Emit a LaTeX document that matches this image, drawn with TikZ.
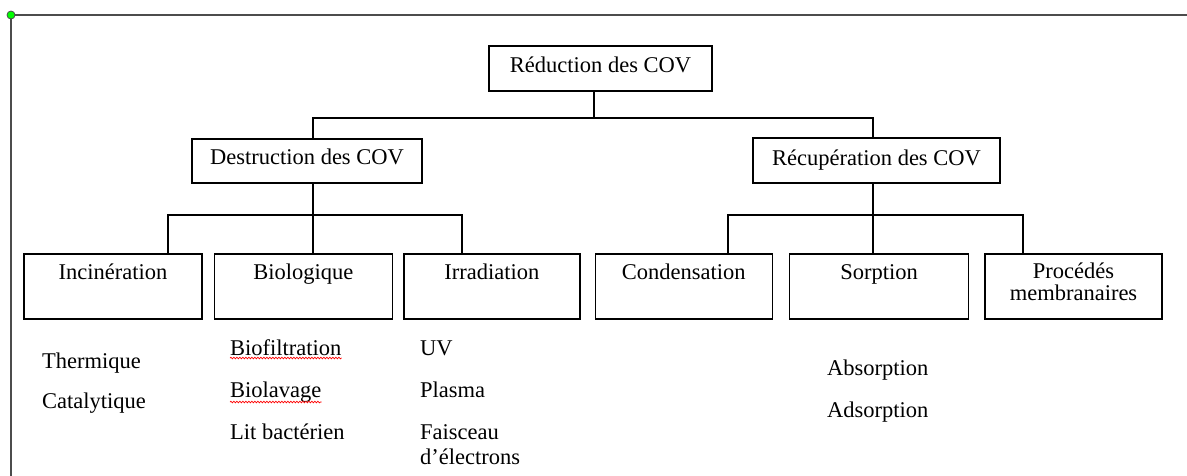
\documentclass[tikz,border=0pt]{standalone}
\usepackage{fontspec}
\setmainfont{Liberation Serif}
\usetikzlibrary{positioning,calc,decorations.pathmorphing}

\begin{document}
\begin{tikzpicture}[x=1pt, y=1pt,
		box/.style={draw, line width=1.4pt, inner sep=0pt, minimum height=65pt},
		lab/.style={anchor=base, yshift=-26pt, inner sep=0pt, font=\fontsize{22.5}{20}\selectfont},
		item/.style={anchor=base west, inner sep=0pt, font=\fontsize{22.5}{25}\selectfont},
		wavy/.style={red, line width=0.7pt, decorate, decoration={snake, amplitude=0.8pt, segment length=3pt}},
		tree/.style={line width=1.3pt},
		frame/.style={line width=1.8pt, black!70},
		dot/.style={circle, draw=black!70, fill=green, line width=0.8pt, inner sep=0pt, minimum size=8pt}]
	\useasboundingbox (0,0) rectangle (1187,-475);
	\coordinate (o) at (11,-15);
	\coordinate (e1) at (1187,-15);
	\coordinate (e2) at (11,-476);
	\draw[frame] (e1) -- (o) -- (e2);
	\node[dot] (pt) at (o) {};
	\node[box, minimum width=223pt, minimum height=45pt, label={[lab, yshift=-1pt]north:Réduction des COV}] (red) at (600.5,-68.5) {};
	\node[box, minimum width=230pt, minimum height=44pt, label={[lab]north:Destruction des COV}] (des) at (307,-161) {};
	\node[box, minimum width=247pt, minimum height=45pt, label={[lab, yshift=-2pt]north:Récupération des COV}] (rec) at (876.5,-160.5) {};
	\node[box, minimum width=178pt, label={[lab]north:Incinération}] (inc) at (113,-286.5) {};
	\node[box, minimum width=178pt, right=11pt of inc, label={[lab]north:Biologique}] (bio) {};
	\node[box, minimum width=176pt, right=10pt of bio, label={[lab]north:Irradiation}] (irr) {};
	\node[box, minimum width=177pt, right=14pt of irr, label={[lab]north:Condensation}] (con) {};
	\node[box, minimum width=179pt, right=16pt of con, label={[lab]north:Sorption}] (sor) {};
	\node[box, minimum width=177pt, right=15pt of sor, label={[lab, yshift=0.5pt]north:Procédés}, label={[lab, yshift=-21pt]north:membranaires}] (pro) {};
	\coordinate (j0) at (594,-118);
	\coordinate (j1) at (313,-215);
	\coordinate (j2) at (873,-215);
	\coordinate (k1) at (168,-215);
	\coordinate (k3) at (462,-215);
	\coordinate (k4) at (728,-215);
	\coordinate (k6) at (1023,-215);
	\draw[tree] (red.south -| j0) -- (j0);
	\draw[tree] (des.north -| j1) |- (j0) -| (rec.north -| j2);
	\draw[tree] (des.south -| j1) -- (bio.north -| j1);
	\draw[tree] (rec.south -| j2) -- (sor.north -| j2);
	\draw[tree] (inc.north -| k1) |- (k3) -- (irr.north -| k3);
	\draw[tree] (con.north -| k4) |- (k6) -- (pro.north -| k6);
	\node[item] (therm) at (42,-368) {Thermique};
	\node[item, below=40pt of therm.base west, anchor=base west] (cata) {Catalytique};
	\node[item] (bfil) at (230,-355) {Biofiltration};
	\node[item, below=42pt of bfil.base west, anchor=base west] (blav) {Biolavage};
	\node[item, below=42pt of blav.base west, anchor=base west] (lit) {Lit bactérien};
	\node[item] (uv) at (420,-355) {UV};
	\node[item, below=42pt of uv.base west, anchor=base west] (plas) {Plasma};
	\node[item, align=left, below=67pt of plas.base west, anchor=base west] (fais) {Faisceau\\d’électrons};
	\node[item] (abso) at (827,-375) {Absorption};
	\node[item, below=42pt of abso.base west, anchor=base west] (adso) {Adsorption};
	\draw[wavy] ($(bfil.base west)+(0,-3)$) -- ($(bfil.base east)+(0,-3)$);
	\draw[wavy] ($(blav.base west)+(0,-5)$) -- ($(blav.base east)+(0,-5)$);
\end{tikzpicture}
\end{document}
